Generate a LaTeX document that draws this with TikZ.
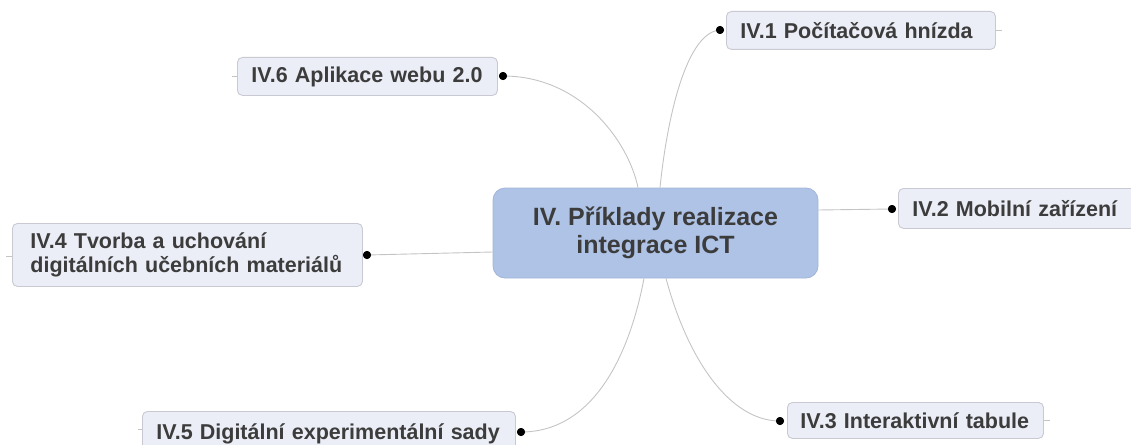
\documentclass[tikz,border=0pt]{standalone}
\usepackage{fontspec}
\setmainfont{Liberation Sans}
\definecolor{txt}{HTML}{3C3C3C}
\definecolor{topicfill}{HTML}{ECEEF7}
\definecolor{topicline}{HTML}{C8C9D2}
\definecolor{mainfill}{HTML}{AEC3E6}
\definecolor{mainline}{HTML}{A2B5D6}
\definecolor{link}{HTML}{C4C4C4}
\tikzset{
  topic/.style={draw=topicline, fill=topicfill, line width=0.9pt, rounded corners=5pt,
    text=txt, font=\fontsize{21.5}{24.5}\selectfont\bfseries, align=left,
    inner xsep=14pt, inner ysep=0pt, anchor=north west},
  central/.style={draw=mainline, fill=mainfill, line width=0.8pt, rounded corners=12pt,
    text=txt, font=\fontsize{25}{27.5}\selectfont\bfseries, align=center,
    minimum width=325pt, minimum height=90pt, inner sep=0pt},
  knot/.style={circle, fill=black, inner sep=0pt, minimum size=8pt},
  link/.style={draw=link, line width=0.9pt},
  tail/.style={draw=link, line width=0.9pt}
}
\begin{document}
\begin{tikzpicture}[x=1pt, y=-1pt]
  \useasboundingbox (0,0) rectangle (1131,444);
  \clip (0,0) rectangle (1131,444);

  % central topic
  \node[central] (c) at (655.5,233) {IV. Příklady realizace\\integrace ICT};

  % subtopics (each line kept unbroken)
  \node[topic, minimum width=269pt, minimum height=38pt, text width=241pt] (t1) at (726,11) {\mbox{IV.1 Počítačová hnízda}};
  \node[topic, minimum width=260pt, minimum height=38pt, text width=232pt] (t6) at (237,57) {\mbox{IV.6 Aplikace webu 2.0}};
  \node[topic, minimum width=350pt, minimum height=63pt, text width=314pt, inner xsep=18pt] (t4) at (12,223) {\mbox{IV.4 Tvorba a uchování}\\\mbox{digitálních učebních materiálů}};
  \node[topic, minimum width=260pt, minimum height=40pt, text width=232pt] (t2) at (898,188) {\mbox{IV.2 Mobilní zařízení}};
  \node[topic, minimum width=256pt, minimum height=36pt, text width=230pt, inner xsep=13pt] (t3) at (787,402) {\mbox{IV.3 Interaktivní tabule}};
  \node[topic, minimum width=373pt, minimum height=44pt, text width=345pt] (t5) at (142,411) {\mbox{IV.5 Digitální experimentální sady}};

  % attachment points
  \node[knot] (k1) at (720,30) {};
  \node[knot] (k6) at (503,76) {};
  \node[knot] (k4) at (367,255) {};
  \node[knot] (k2) at (892,209) {};
  \node[knot] (k3) at (780,421) {};
  \node[knot] (k5) at (521,432) {};

  % branches
  \draw[link] ([xshift=4.5pt]c.north) .. controls (668,110) and (688,32) .. (k1.center);
  \draw[link] ([xshift=-17.5pt]c.north) .. controls (628,140) and (580,76) .. (k6.center);
  \draw[link] ([yshift=-19pt]c.west) -- (k4.center);
  \draw[link] ([yshift=23pt]c.east) -- (k2.center);
  \draw[link] ([xshift=10.5pt]c.south) .. controls (688,360) and (730,421) .. (k3.center);
  \draw[link] ([xshift=-11.5pt]c.south) .. controls (628,362) and (590,432) .. (k5.center);
  \foreach \k in {k1,k6,k4,k2,k3,k5} \node[knot] at (\k) {};

  % short stubs on the far sides of the boxes
  \draw[tail] (t1.east) -- ++(6,0);
  \draw[tail] (t6.west) -- ++(-5,0);
  \draw[tail] ([yshift=-1pt]t4.west) -- ++(-6,0);
  \draw[tail] (t3.east) -- ++(6,0);
  \draw[tail] ([yshift=4pt]t5.west) -- ++(-4,0);
\end{tikzpicture}
\end{document}
